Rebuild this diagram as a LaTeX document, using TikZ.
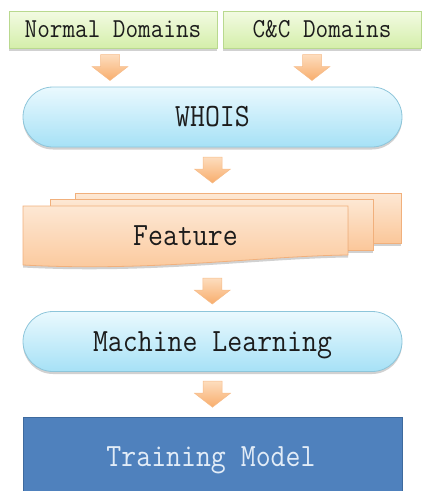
\documentclass[tikz,border=0pt]{standalone}
\usetikzlibrary{calc,shadows}

\definecolor{grnTop}{HTML}{F3FBE3}
\definecolor{grnBot}{HTML}{D4EEAA}
\definecolor{grnLine}{HTML}{B9D98F}
\definecolor{bluTop}{HTML}{EAF9FE}
\definecolor{bluBot}{HTML}{A6E1F6}
\definecolor{bluLine}{HTML}{8DC5DA}
\definecolor{orgTop}{HTML}{FDE8D4}
\definecolor{orgBot}{HTML}{FBC79A}
\definecolor{orgLine}{HTML}{F1B07C}
\definecolor{arrTop}{HTML}{FDDDBE}
\definecolor{arrBot}{HTML}{F8AD6C}
\definecolor{arrLine}{HTML}{F6BC8A}
\definecolor{modFill}{HTML}{4F81BD}
\definecolor{modLine}{HTML}{3E6A9E}
\definecolor{modText}{HTML}{E2ECF7}
\definecolor{inkText}{HTML}{1C1C1C}

% slightly taller lettering
\newcommand{\tallword}[1]{\scalebox{1}[1.12]{#1}}

\tikzset{
  softshadow/.style={drop shadow={shadow xshift=0pt, shadow yshift=-2.5pt, opacity=0.18, fill=black}},
  capcentre/.style={text height=#1, text depth=0pt},
  sourcebox/.style={draw=grnLine, line width=0.8pt, top color=grnTop, bottom color=grnBot,
    minimum height=37, inner sep=0pt, softshadow, capcentre=16.8pt,
    font=\ttfamily\fontsize{24.5}{26}\selectfont, text=inkText},
  processbox/.style={draw=bluLine, line width=0.8pt, top color=bluTop, bottom color=bluBot,
    minimum width=379, minimum height=60, rounded corners=30, inner sep=0pt, softshadow, capcentre=19.8pt,
    font=\ttfamily\fontsize{29}{31}\selectfont, text=inkText},
  sheet/.style={draw=orgLine, line width=0.8pt, top color=orgTop, bottom color=orgBot, softshadow},
  modelbox/.style={draw=modLine, line width=1pt, fill=modFill, inner sep=0pt},
  labeltext/.style={inner sep=0pt, capcentre=19.8pt, font=\ttfamily\fontsize{29}{31}\selectfont},
  arrowbody/.style={draw=arrLine, line width=0.5pt, top color=arrTop, bottom color=arrBot},
  pics/downarrow/.style={code={
    \path[arrowbody] (-9.5,-13) -- (9.5,-13) -- (9.5,-1) -- (18,-1) -- (0,13)
      -- (-18,-1) -- (-9.5,-1) -- cycle;
  }}
}

\begin{document}
\begin{tikzpicture}[x=1pt, y=-1pt]
  \useasboundingbox (0,0) rectangle (424,491);

  % data sources
  \node[sourcebox, minimum width=208] (normal) at (113,29.5) {\tallword{Normal Domains}};
  \node[sourcebox, minimum width=198] (cc) at (322,29.5) {\tallword{C\&C Domains}};

  % WHOIS lookup
  \node[processbox] (whois) at (212.5,117) {\tallword{WHOIS}};

  % stacked feature sheets, back to front
  \node[sheet, minimum width=326, minimum height=50, inner sep=0pt] (sheetback) at (238,218) {};
  \node[sheet, minimum width=323, minimum height=51, inner sep=0pt] (sheetmid) at (211.5,224.5) {};
  \path[sheet] (23,206) -- (348,206) -- (348,255)
     .. controls (262,256) and (150,272) .. (23,265) -- cycle;
  \node[labeltext, text=inkText] (feature) at (185.5,236) {\tallword{Feature}};
  \coordinate (featbottom) at (212,267);

  % learning step
  \node[processbox] (ml) at (212.5,341.5) {\tallword{Machine Learning}};

  % resulting model
  \node[modelbox, minimum width=379, minimum height=84] (model) at (212.5,459) {};
  \node[labeltext, text=modText] (modellabel) at (211,457) {\tallword{Training Model}};

  % block arrows between the stages
  \pic at ($(normal.south -| 110,0)!0.5!(whois.north -| 110,0)$) {downarrow};
  \pic at ($(cc.south -| 312,0)!0.5!(whois.north -| 312,0)$) {downarrow};
  \pic at ($(whois.south)!0.5!(sheetback.north -| whois.south)$) {downarrow};
  \pic at ($(featbottom)!0.5!(ml.north)+(0,2)$) {downarrow};
  \pic at ($(ml.south)!0.5!(model.north)$) {downarrow};
\end{tikzpicture}
\end{document}
